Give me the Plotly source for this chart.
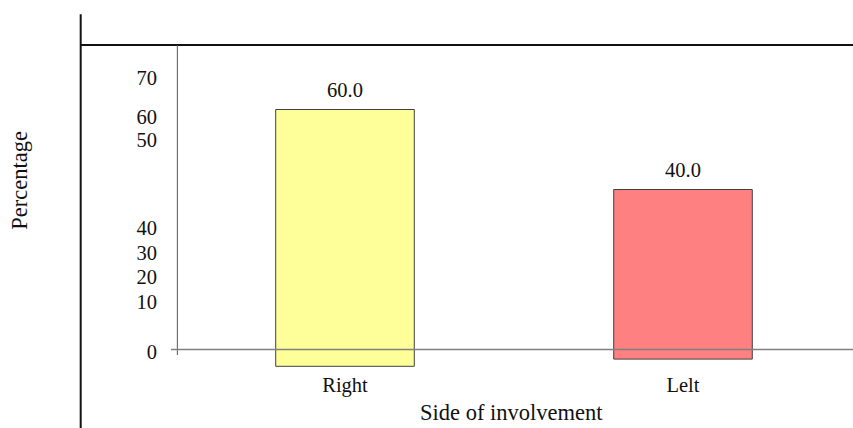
import plotly.graph_objects as go

categories = ["Right", "Lelt"]
percentages = [60.0, 40.0]
bar_colors = ["#FFFF99", "#FF8080"]
bar_bases = [-4.2, -2.4]
tick_labels = ["70", "60", "50", "40", "30", "20", "10", "0"]
tick_values = [67.8, 58.2, 52.4, 30.3, 24.05, 18.05, 11.95, -0.7]

FONT = "Liberation Serif, Times New Roman, serif"
TICK = 20.5
TITLE = 22.5

fig = go.Figure()
fig.add_trace(go.Bar(
    x=categories,
    y=[v - b for v, b in zip(percentages, bar_bases)],
    base=bar_bases,
    width=0.41,
    marker=dict(color=bar_colors, line=dict(color="#404040", width=1)),
    textposition="none",
    hoverinfo="skip",
))
for c, v in zip(categories, percentages):
    fig.add_annotation(x=c, y=v, text=f"{v:.1f}", showarrow=False,
                       yanchor="bottom", yshift=7,
                       font=dict(family=FONT, size=TICK, color="#111"))

fig.update_layout(
    width=853, height=428,
    margin=dict(l=176, r=1, t=45, b=58),
    plot_bgcolor="white", paper_bgcolor="white",
    showlegend=False,
    font=dict(family=FONT, size=TICK, color="#111"),
    xaxis=dict(range=[-0.5, 1.5], showline=False, showgrid=False, zeroline=False,
               ticks="", tickfont=dict(family=FONT, size=TICK)),
    yaxis=dict(range=[-5.125, 76.125], tickvals=tick_values, ticktext=tick_labels,
               showline=False, showgrid=False, zeroline=False, ticks="",
               ticklabelstandoff=18, tickfont=dict(family=FONT, size=TICK)),
)

# axis titles
fig.add_annotation(text="Side of involvement", xref="paper", yref="paper",
                   x=0.4956, y=-0.132, showarrow=False, yanchor="middle",
                   font=dict(family=FONT, size=TITLE, color="#111"))
fig.add_annotation(text="Percentage", xref="paper", yref="paper",
                   x=-0.231, y=0.585, showarrow=False, textangle=-90,
                   xanchor="center", yanchor="middle",
                   font=dict(family=FONT, size=TITLE, color="#111"))

# frame lines
fig.add_shape(type="line", xref="paper", yref="paper", x0=-0.141, x1=-0.141,
              y0=1.095, y1=-0.2, line=dict(color="#111", width=2))
fig.add_shape(type="line", xref="paper", yref="paper", x0=-0.141, x1=1.01,
              y0=1.0, y1=1.0, line=dict(color="#111", width=2))
fig.add_shape(type="line", xref="paper", yref="paper", x0=0.002, x1=0.002,
              y0=1.0, y1=0.046, line=dict(color="#555", width=1))
fig.add_shape(type="line", xref="paper", yref="y", x0=-0.0074, x1=1.01,
              y0=0, y1=0, line=dict(color="#808080", width=1.5), layer="above")

fig.write_html("out.html", config={"displayModeBar": False},
               post_script="document.body.style.margin='0';")
